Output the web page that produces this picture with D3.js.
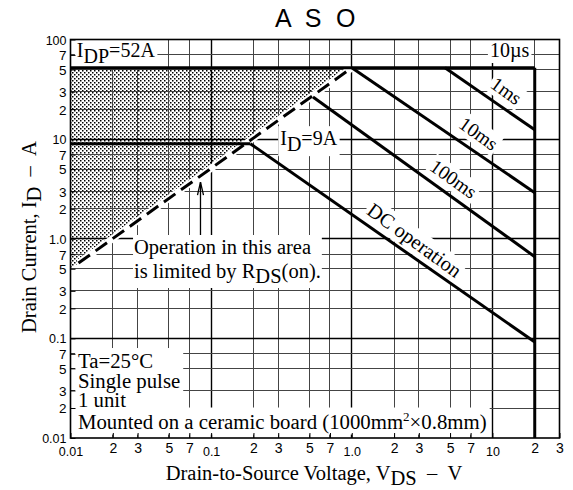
<!DOCTYPE html>
<html>
<head>
<meta charset="utf-8">
<script src="https://cdn.jsdelivr.net/npm/d3@7"></script>
<style>
body { margin: 0; background: #fff; }
</style>
</head>
<body>
<svg id="chart" width="573" height="490"></svg>
<script>
// tick values and labels (log-log, 1-2-3-5-7 grid)
var xTicks = [0.01, 0.02, 0.03, 0.05, 0.07, 0.1, 0.2, 0.3, 0.5, 0.7, 1, 2, 3, 5, 7, 10, 20, 30];
var xTickLabels = ["0.01", "2", "3", "5", "7", "0.1", "2", "3", "5", "7", "1.0", "2", "3", "5", "7", "10", "2", "3"];
var yTicks = [0.01, 0.02, 0.03, 0.05, 0.07, 0.1, 0.2, 0.3, 0.5, 0.7, 1, 2, 3, 5, 7, 10, 20, 30, 50, 70, 100];
var yTickLabels = ["0.01", "2", "3", "5", "7", "0.1", "2", "3", "5", "7", "1.0", "2", "3", "5", "7", "10", "2", "3", "5", "7", "100"];
var decades = [0.01, 0.1, 1, 10, 100];

// safe operating area boundaries, [VDS, ID]
var idpLimit = [[0.01, 52], [20, 52]];
var vdsLimit = [[20, 52], [20, 0.01]];
var idLimit = [[0.01, 9], [0.19, 9]];
var rdsLimit = [[0.0114, 0.57], [1.0, 52]];
var rdsArea = [[0.01, 52], [1.0, 52], [0.01, 0.5]];
var dcLine = [[0.19, 9], [20, 0.092]];
var line100ms = [[0.53, 26.5], [20, 0.66]];
var line10ms = [[1.0, 52], [20, 2.9]];
var line1ms = [[4.6, 52], [20, 12.4]];

var serif = "'Liberation Serif', 'Times New Roman', serif";
var sans = "'Liberation Sans', Arial, sans-serif";

var svg = d3.select("#chart");
var x = d3.scaleLog().domain([0.01, 30]).range([70.5, 559.5]);
var y = d3.scaleLog().domain([0.01, 100]).range([438, 39.5]);
var line = d3.line().x(function (d) { return x(d[0]); }).y(function (d) { return y(d[1]); });
var isDecade = function (d) { return decades.indexOf(d) >= 0; };
var crisp = function (v) { return Math.round(v - 0.5) + 0.5; };

var defs = svg.append("defs");
var pat = defs.append("pattern").attr("id", "dots")
    .attr("width", 4).attr("height", 4).attr("patternUnits", "userSpaceOnUse");
pat.append("rect").attr("x", 0).attr("y", 0).attr("width", 1.5).attr("height", 1.5).attr("fill", "#000");
pat.append("rect").attr("x", 2).attr("y", 2).attr("width", 1.5).attr("height", 1.5).attr("fill", "#000");

var areaLayer = svg.append("g");
var gridLayer = svg.append("g");
var boxLayer = svg.append("g");
var lineLayer = svg.append("g");
var axisLayer = svg.append("g");
var textLayer = svg.append("g");

// stippled R_DS(on) limited area
areaLayer.append("path")
    .attr("d", line(rdsArea) + "Z")
    .attr("fill", "url(#dots)");

// grid
gridLayer.selectAll("line.v")
    .data(xTicks.filter(function (d) { return d > 0.01 && d < 30; }))
    .enter().append("line")
    .attr("x1", function (d) { return crisp(x(d)); })
    .attr("x2", function (d) { return crisp(x(d)); })
    .attr("y1", y(100)).attr("y2", y(0.01))
    .attr("stroke", function (d) { return isDecade(d) ? "#000" : "#444"; })
    .attr("stroke-width", function (d) { return isDecade(d) ? 1.4 : 1; });

gridLayer.selectAll("line.h")
    .data(yTicks.filter(function (d) { return d > 0.01 && d < 100; }))
    .enter().append("line")
    .attr("y1", function (d) { return crisp(y(d)); })
    .attr("y2", function (d) { return crisp(y(d)); })
    .attr("x1", x(0.01)).attr("x2", x(30))
    .attr("stroke", function (d) { return isDecade(d) ? "#000" : "#444"; })
    .attr("stroke-width", function (d) { return isDecade(d) ? 1.4 : 1; });

var fillParts = function (t, parts) {
    parts.forEach(function (p) {
        var ts = t.append("tspan").text(p.t);
        if (p.dy) ts.attr("dy", p.dy);
        if (p.size) ts.attr("font-size", p.size);
    });
};

// text (one element, lines as tspans) with white boxes behind it
var label = function (lines, px, py, size, opts) {
    opts = opts || {};
    var tr = "translate(" + px + "," + py + ")" + (opts.angle ? " rotate(" + opts.angle + ")" : "");
    var g = textLayer.append("g").attr("transform", tr);
    var offs = lines.map(function (l, i) { return opts.lineGaps ? d3.sum(opts.lineGaps.slice(0, i)) : 0; });
    // measure each line with a temporary element
    var boxes = lines.map(function (parts, i) {
        var m = g.append("text").attr("font-family", serif).attr("font-size", size)
            .attr("text-anchor", opts.anchor || "start").attr("y", offs[i]).attr("dy", opts.dy || 0);
        fillParts(m, parts);
        var b = m.node().getBBox();
        m.remove();
        return b;
    });
    var t = g.append("text").attr("font-family", serif).attr("font-size", size)
        .attr("text-anchor", opts.anchor || "start");
    lines.forEach(function (parts, i) {
        var row = t.append("tspan").attr("x", 0).attr("y", offs[i]).attr("dy", opts.dy || 0);
        fillParts(row, parts);
    });
    var pad = opts.pad == null ? 2 : opts.pad;
    var groups = opts.boxGroups || [lines.map(function (l, i) { return i; })];
    groups.forEach(function (idx) {
        var x0 = Infinity, y0 = Infinity, x1 = -Infinity, y1 = -Infinity;
        idx.forEach(function (i) {
            var b = boxes[i];
            x0 = Math.min(x0, b.x); y0 = Math.min(y0, b.y);
            x1 = Math.max(x1, b.x + b.width); y1 = Math.max(y1, b.y + b.height);
        });
        boxLayer.append("rect").attr("transform", tr)
            .attr("x", x0 - pad).attr("y", y0 - 1)
            .attr("width", x1 - x0 + 2 * pad).attr("height", y1 - y0 + 2)
            .attr("fill", "#fff");
    });
    return g;
};

// R_DS(on) dashed line with white halo
lineLayer.append("path").attr("d", line(rdsLimit))
    .attr("fill", "none").attr("stroke", "#fff").attr("stroke-width", 7);
lineLayer.append("path").attr("d", line(rdsLimit))
    .attr("fill", "none").attr("stroke", "#000").attr("stroke-width", 3)
    .attr("stroke-dasharray", "14,7");

[idpLimit, vdsLimit, idLimit, dcLine, line100ms, line10ms, line1ms].forEach(function (s) {
    lineLayer.append("path").attr("d", line(s))
        .attr("fill", "none").attr("stroke", "#000").attr("stroke-width", 3);
});

// arrow pointing at the R_DS(on) line
var ax = x(0.084), aTop = y(3.7), aBot = y(1.09);
lineLayer.append("line").attr("x1", ax).attr("x2", ax).attr("y1", aTop).attr("y2", aBot)
    .attr("stroke", "#000").attr("stroke-width", 1.3);
lineLayer.append("path")
    .attr("d", "M" + (ax - 3) + "," + (aTop + 13) + "L" + ax + "," + aTop + "L" + (ax + 3) + "," + (aTop + 13))
    .attr("fill", "none").attr("stroke", "#000").attr("stroke-width", 1.3);

// axes with inward ticks
var xAxis = axisLayer.append("g").attr("transform", "translate(0," + y(0.01) + ")")
    .call(d3.axisBottom(x).tickValues(xTicks)
        .tickFormat(function (d, i) { return xTickLabels[i]; })
        .tickSizeInner(-5).tickSizeOuter(0));
xAxis.select(".domain").remove();
xAxis.selectAll("line").attr("stroke", "#000");
xAxis.selectAll("text")
    .attr("font-family", sans)
    .attr("font-size", function (d) { return isDecade(d) ? 12.5 : 14; })
    .attr("y", function (d) { return isDecade(d) ? 9 : 5; })
    .attr("fill", "#000");

var yAxis = axisLayer.append("g").attr("transform", "translate(" + x(0.01) + ",0)")
    .call(d3.axisLeft(y).tickValues(yTicks)
        .tickFormat(function (d, i) { return yTickLabels[i]; })
        .tickSizeInner(-5).tickSizeOuter(0));
yAxis.select(".domain").remove();
yAxis.selectAll("line").attr("stroke", "#000");
yAxis.selectAll("text")
    .attr("font-family", sans)
    .attr("font-size", function (d) { return isDecade(d) ? 12.5 : 13.5; })
    .attr("x", -4)
    .attr("dy", function (d) { return isDecade(d) ? "0.36em" : "0.36em"; })
    .attr("fill", "#000");

// frame
svg.append("rect")
    .attr("x", x(0.01)).attr("y", y(100))
    .attr("width", x(30) - x(0.01)).attr("height", y(0.01) - y(100))
    .attr("fill", "none").attr("stroke", "#000").attr("stroke-width", 1.6);

// annotations
label([[{t: "I"}, {t: "DP", dy: 6}, {t: "=52A", dy: -6}]], x(0.0111), y(66.7), 20);
label([[{t: "10\u00b5s"}]], x(9.6), y(66.7), 20);
label([[{t: "I"}, {t: "D", dy: 6}, {t: "=9A", dy: -6}]], x(0.31), y(8.7), 20);
label([[{t: "Operation in this area"}], [{t: "is limited by R"}, {t: "DS", dy: 5}, {t: "(on).", dy: -5}]],
    x(0.0283), y(0.703), 20.5, {lineGaps: [24], pad: 1});
label([[{t: "Ta=25\u00b0C"}], [{t: "Single pulse"}], [{t: "1 unit"}],
       [{t: "Mounted on a ceramic board (1000mm"}, {t: "2", size: 13, dy: -8}, {t: "\u00d70.8mm)", dy: 8}]],
    x(0.0113), y(0.0504), 20.8, {lineGaps: [19.5, 19.5, 21.5], pad: 3, boxGroups: [[0, 1, 2], [3]]});

label([[{t: "1ms"}]], x(12.6), y(30.6), 19.5, {angle: 35.5, anchor: "middle", dy: "0.35em"});
label([[{t: "10ms"}]], x(8.0), y(11.4), 19.5, {angle: 35.5, anchor: "middle", dy: "0.35em"});
label([[{t: "100ms"}]], x(5.3), y(4.0), 19.5, {angle: 35.5, anchor: "middle", dy: "0.35em"});
label([[{t: "DC operation"}]], x(2.8), y(0.97), 20.5, {angle: 36, anchor: "middle", dy: "0.35em"});

// titles
svg.append("text")
    .attr("x", 275).attr("y", 27)
    .attr("font-family", sans).attr("font-size", 25)
    .attr("letter-spacing", 3.8)
    .text("A S O");

var xt = svg.append("text")
    .attr("x", 314).attr("y", 480)
    .attr("text-anchor", "middle")
    .attr("font-family", serif).attr("font-size", 20.5);
xt.append("tspan").text("Drain-to-Source Voltage, V");
xt.append("tspan").attr("dy", 5).text("DS");
xt.append("tspan").attr("dy", -5).text("\u00a0\u00a0\u2013\u00a0\u00a0V");

var yt = svg.append("text")
    .attr("transform", "translate(36,237) rotate(-90)")
    .attr("text-anchor", "middle")
    .attr("font-family", serif).attr("font-size", 20.5);
yt.append("tspan").text("Drain Current, I");
yt.append("tspan").attr("dy", 5).text("D");
yt.append("tspan").attr("dy", -5).text("\u00a0\u00a0\u2013\u00a0\u00a0A");
</script>
</body>
</html>
